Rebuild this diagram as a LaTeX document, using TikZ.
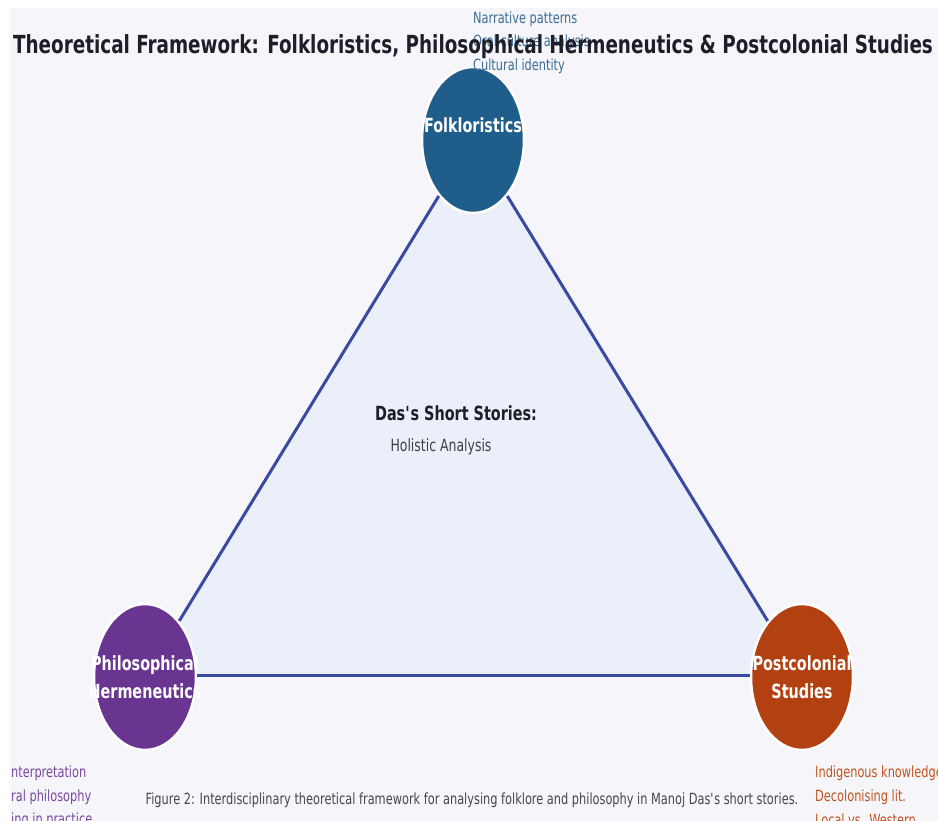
\documentclass[tikz,border=0pt]{standalone}
\usepackage{fontspec}
\setmainfont{DejaVu Sans Condensed}[FakeStretch=0.82]
\usetikzlibrary{shapes.geometric}
\definecolor{bgpanel}{RGB}{245,245,250}
\definecolor{trifill}{RGB}{234,239,250}
\definecolor{edgeblue}{RGB}{58,74,160}
\definecolor{folkcol}{RGB}{31,94,138}
\definecolor{philcol}{RGB}{106,53,144}
\definecolor{postcol}{RGB}{178,64,16}
\definecolor{folklab}{RGB}{62,108,148}
\definecolor{philab}{RGB}{122,72,160}
\definecolor{postlab}{RGB}{192,84,30}
\definecolor{titlecol}{RGB}{30,30,40}
\definecolor{capcol}{RGB}{70,70,75}
\tikzset{
  hub/.style={ellipse, draw=white, line width=2.5pt, minimum width=102pt,
    minimum height=146pt, inner sep=0pt},
  hubtext/.style={text=white, font=\fontsize{19.5}{28}\selectfont\bfseries,
    align=center, inner sep=0pt},
  link/.style={draw=edgeblue, line width=3pt},
  aspect/.style={anchor=west, inner sep=0pt, font=\fontsize{15.4}{18}\selectfont}
}
\begin{document}
\begin{tikzpicture}[x=1pt,y=-1pt]
\useasboundingbox (0,0) rectangle (938,821);
\fill[white] (0,0) rectangle (938,821);
\fill[bgpanel] (10,8) rectangle (938,821);

% shared field of the three disciplines
\fill[trifill] (473,140) -- (145,677) -- (802,677) -- cycle;

% discipline hubs
\node[hub, fill=folkcol] (folk) at (473,140) {};
\node[hub, fill=philcol] (phil) at (145,677) {};
\node[hub, fill=postcol] (post) at (802,677) {};

% connecting sides
\draw[link] (folk) -- (phil);
\draw[link] (folk) -- (post);
\draw[link] (phil.east |- 0,675) -- (post.west |- 0,675);

\node[hubtext] (folkt) at (473,125) {Folkloristics};
\node[hubtext] (philt) at (phil) {Philosophical\\Hermeneutics};
\node[hubtext] (postt) at (post) {Postcolonial\\Studies};

% centre
\node[font=\fontsize{19.5}{22}\selectfont\bfseries, text=titlecol, inner sep=0pt] (core) at (456,413) {Das\textquotesingle s Short Stories:};
\node[font=\fontsize{16.9}{19}\selectfont, text=titlecol!85, inner sep=0pt] (coresub) at (441,447) {Holistic Analysis};

% aspect lists of each discipline
\begin{scope}
\clip (10,8) rectangle (938,821);
\node[aspect, text=folklab] (f1) at (473,19) {Narrative patterns};
\node[aspect, text=folklab] (f2) at (473,42) {Oral culture analysis};
\node[aspect, text=folklab] (f3) at (473,66) {Cultural identity};
\node[aspect, text=philab] (p1) at (11,773) {nterpretation};
\node[aspect, text=philab] (p2) at (11,797) {ral philosophy};
\node[aspect, text=philab] (p3) at (11,820) {ing in practice};
\node[aspect, text=postlab] (c1) at (815,773) {Indigenous knowledge};
\node[aspect, text=postlab] (c2) at (815,797) {Decolonising lit.};
\node[aspect, text=postlab] (c3) at (815,820) {Local vs. Western};
\end{scope}

% title and caption
\node[font=\fontsize{24.9}{28}\selectfont\bfseries, text=titlecol, inner sep=0pt] (title) at (473,47)
  {Theoretical Framework: Folkloristics, Philosophical Hermeneutics \& Postcolonial Studies};
\node[font=\fontsize{15.4}{18}\selectfont, text=capcol, inner sep=0pt] (caption) at (472,800)
  {Figure 2: Interdisciplinary theoretical framework for analysing folklore and philosophy in Manoj Das\textquotesingle s short stories.};
\end{tikzpicture}
\end{document}
